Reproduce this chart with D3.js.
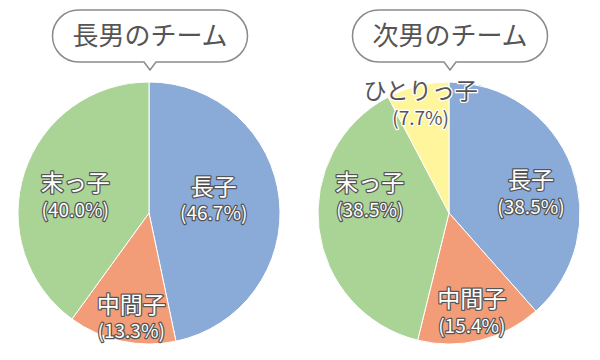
<!DOCTYPE html>
<html><head><meta charset="utf-8">
<script src="https://cdn.jsdelivr.net/npm/d3@7"></script>
<style>body{margin:0;background:#fff}svg{display:block}</style>
</head><body>
<svg id="c" width="600" height="360"></svg>
<script>
const titles = ["長男のチーム", "次男のチーム"];
const categoriesA = ["長子", "中間子", "末っ子"];
const valuesA = [46.7, 13.3, 40.0];
const categoriesB = ["長子", "中間子", "末っ子", "ひとりっ子"];
const valuesB = [38.5, 15.4, 38.5, 7.7];

const colorMap = {"長子":"#8aaad8","中間子":"#f29c78","末っ子":"#aad396","ひとりっ子":"#fff59d"};
const darkLabel = {"ひとりっ子": true};
// layout: label radius factor and nudge per slice
const labelLayout = {
  0: {"長子":[0.55,-7,-6], "中間子":[0.76,3,7], "末っ子":[0.6,1,7]},
  1: {"長子":[0.71,-5,13], "中間子":[0.76,-1,2], "末っ子":[0.64,4,-27], "ひとりっ子":[0.84,-2,-2]}
};
const svg = d3.select("#c");
const font = "'Noto Sans CJK JP', 'Noto Sans', sans-serif";
const R = 131;
const charts = [
  {cx:149, cy:213, cats:categoriesA, vals:valuesA},
  {cx:449, cy:213, cats:categoriesB, vals:valuesB}
];
charts.forEach((ch, i) => {
  const g = svg.append("g").attr("transform", `translate(${ch.cx},${ch.cy})`);
  const data = ch.cats.map((c, k) => ({cat:c, v:ch.vals[k]}));
  const pie = d3.pie().sort(null).value(d => d.v);
  const arc = d3.arc().innerRadius(0).outerRadius(R);
  const arcs = pie(data);
  g.selectAll("path").data(arcs).join("path")
    .attr("d", arc).attr("fill", d => colorMap[d.data.cat])
    .attr("stroke", "#fff").attr("stroke-width", 1);
  arcs.forEach(a => {
    const [f, dx, dy] = labelLayout[i][a.data.cat];
    const lr = R * f;
    const [x, y] = d3.arc().innerRadius(lr).outerRadius(lr).centroid(a);
    const dark = darkLabel[a.data.cat];
    const t = g.append("g").attr("transform", `translate(${x+dx},${y+dy})`)
      .attr("font-family", font).attr("text-anchor", "middle")
      .attr("fill", dark ? "#555" : "#fff")
      .attr("stroke", dark ? "#fff" : "#555")
      .attr("stroke-width", 2.5).attr("stroke-linejoin", "round")
      .style("paint-order", "stroke");
    t.append("text").attr("y", -13).attr("dy", "0.36em").attr("font-size", 23).text(a.data.cat);
    t.append("text").attr("y", 14).attr("dy", "0.36em").attr("font-size", 19).text(`(${a.data.v.toFixed(1)}%)`);
  });
  // title bubble
  const bx = ch.cx + 1, w = 195, h = 52, top = 10, rr = 26;
  const l = bx - w/2, r = bx + w/2, b = top + h;
  const p = `M${l+rr},${top} H${r-rr} A${rr},${rr} 0 0 1 ${r-rr},${b} H${bx+6} L${bx},${b+8} L${bx-6},${b} H${l+rr} A${rr},${rr} 0 0 1 ${l+rr},${top} Z`;
  svg.append("path").attr("d", p).attr("fill", "#fff").attr("stroke", "#8a8a8a").attr("stroke-width", 1.5);
  svg.append("text").attr("x", bx).attr("y", top + h/2).attr("dy", "0.36em")
    .attr("text-anchor", "middle").attr("font-family", font).attr("font-size", 26)
    .attr("fill", "#555").text(titles[i]);
});
</script>
</body></html>
